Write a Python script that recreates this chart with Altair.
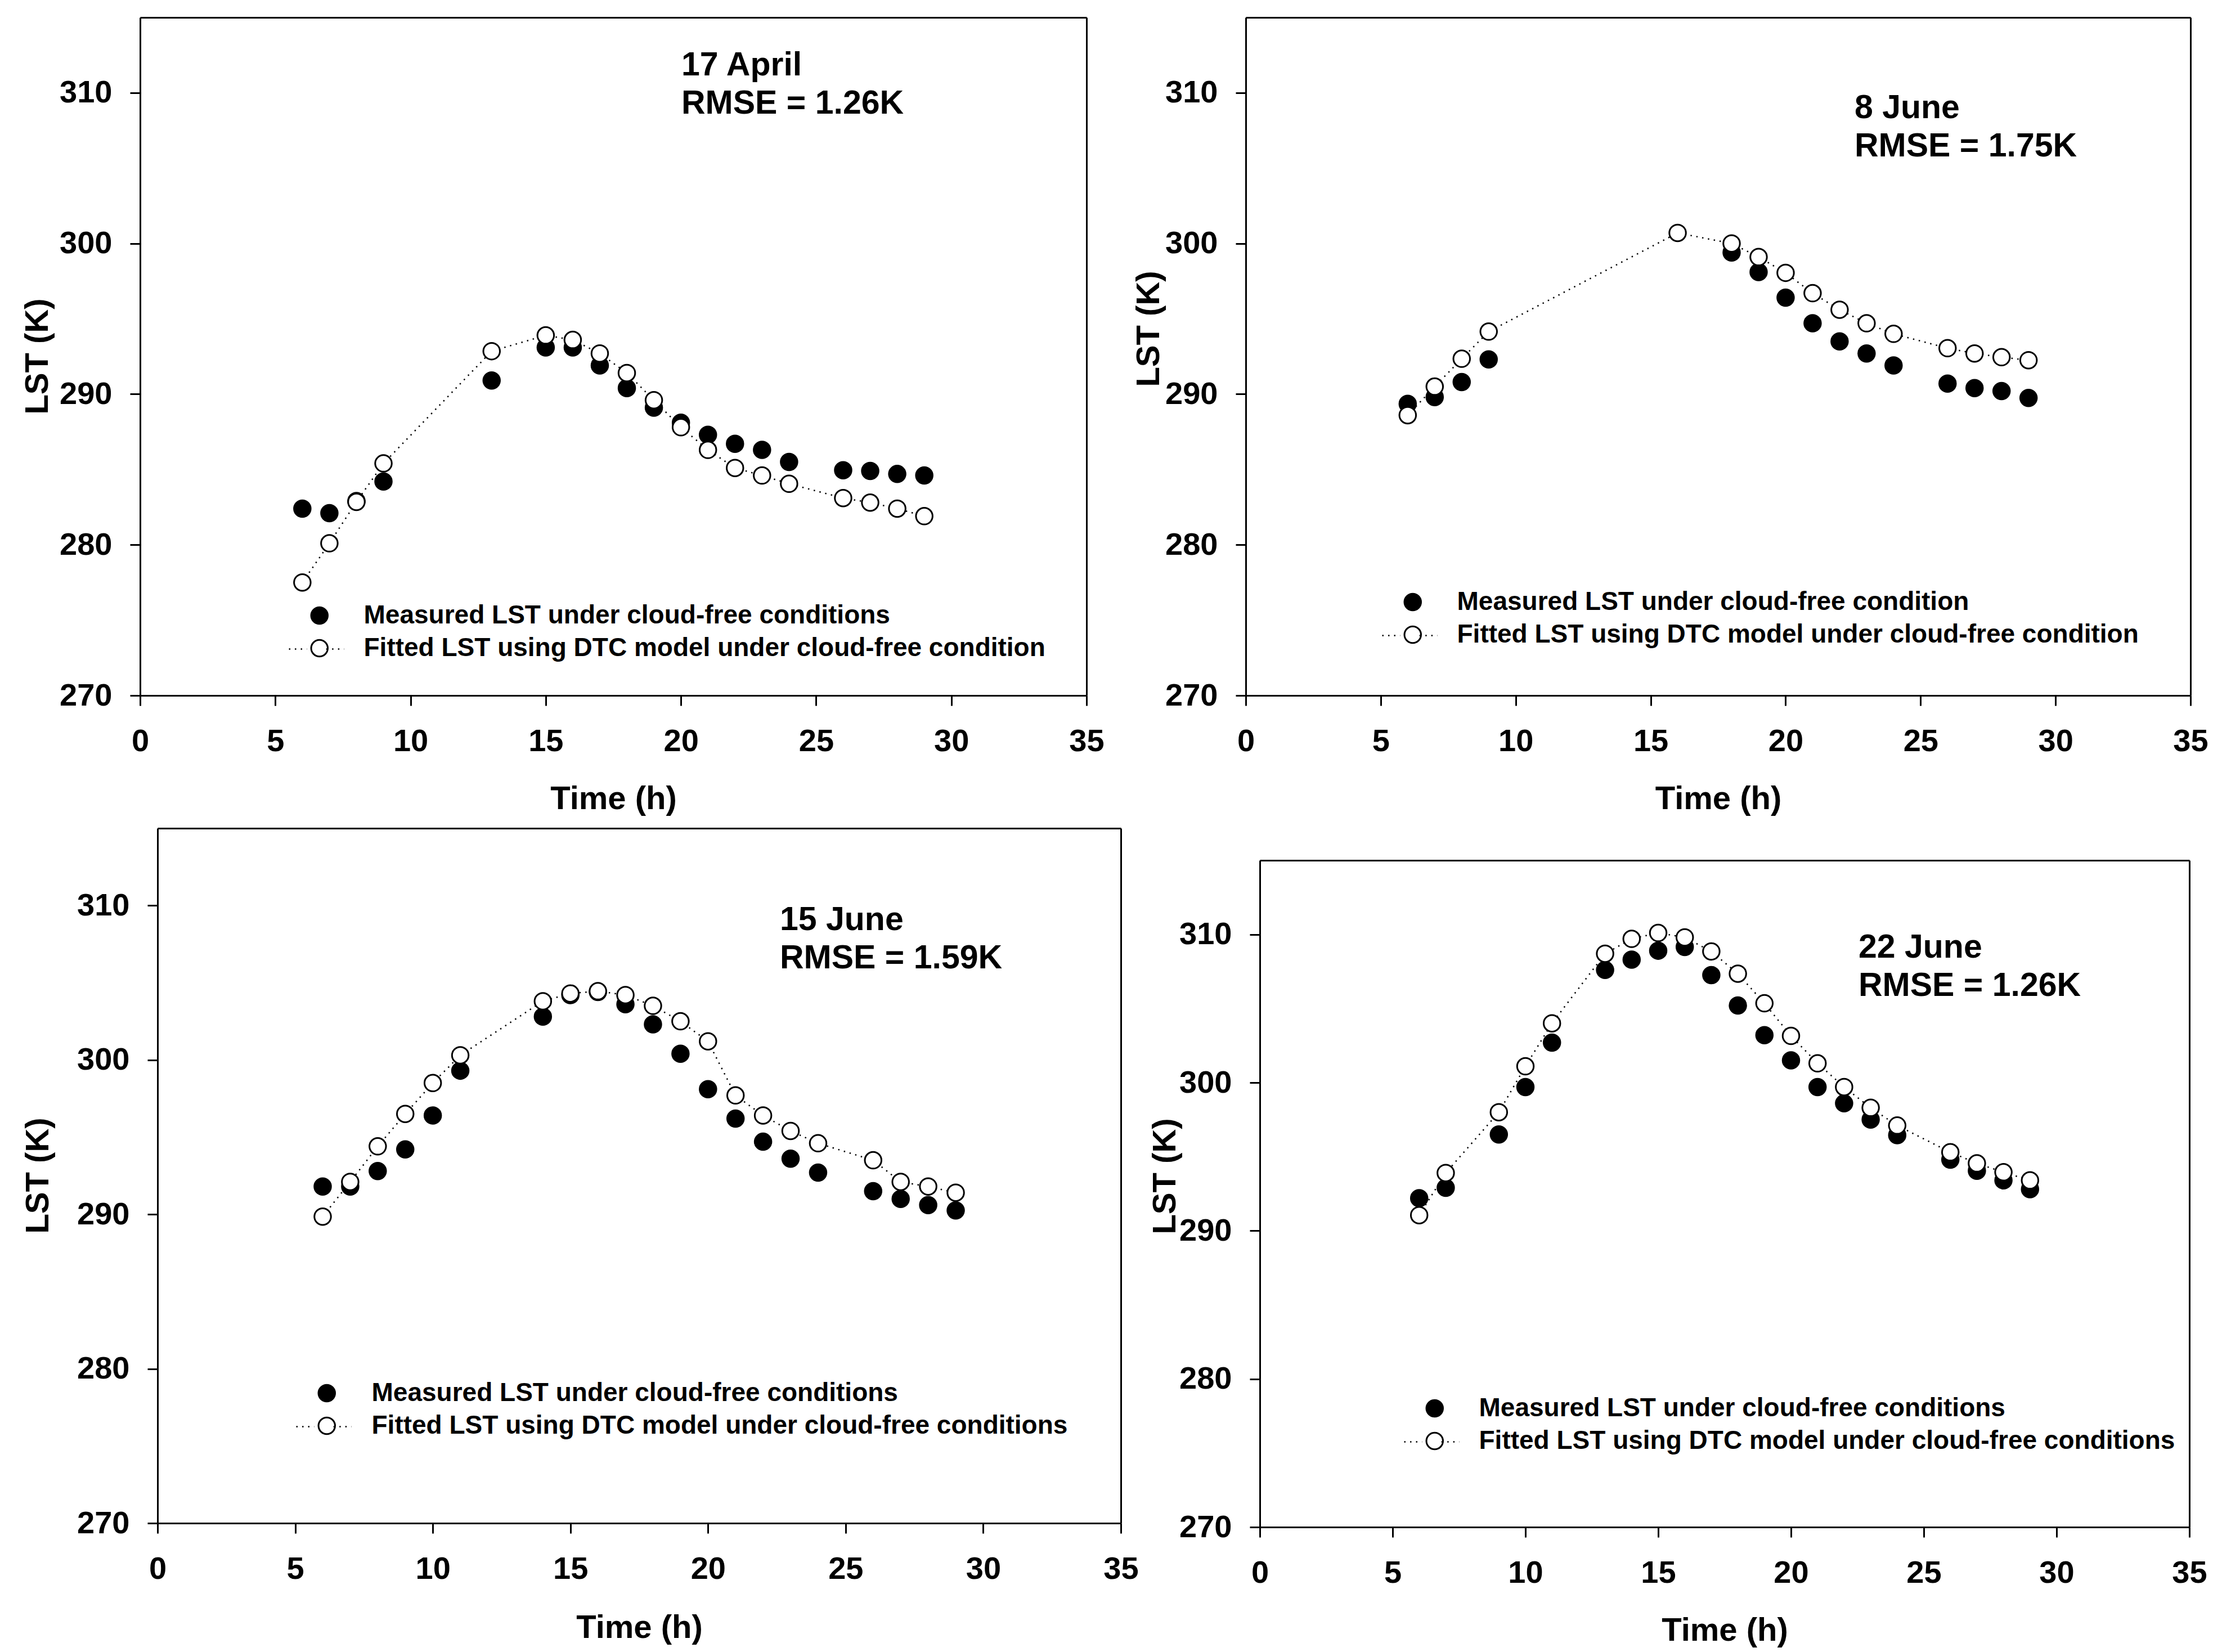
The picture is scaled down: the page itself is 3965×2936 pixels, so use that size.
import altair as alt
import pandas as pd

FONT = "Liberation Sans"

# ---------------- data ----------------
p1_meas_t = [6, 7, 8, 9, 13, 15, 16, 17, 18, 19, 20, 21, 22, 23, 24, 26, 27, 28, 29]
p1_meas_v = [282.4, 282.1, 282.9, 284.2, 290.9, 293.1, 293.1, 291.9, 290.4, 289.1, 288.1,
             287.3, 286.7, 286.3, 285.5, 284.95, 284.9, 284.7, 284.6]
p1_fit_t = [6, 7, 8, 9, 13, 15, 16, 17, 18, 19, 20, 21, 22, 23, 24, 26, 27, 28, 29]
p1_fit_v = [277.5, 280.1, 282.85, 285.4, 292.85, 293.9, 293.6, 292.7, 291.4, 289.6, 287.8,
            286.3, 285.1, 284.6, 284.05, 283.1, 282.8, 282.4, 281.9]

p2_meas_t = [6, 7, 8, 9, 18, 19, 20, 21, 22, 23, 24, 26, 27, 28, 29]
p2_meas_v = [289.35, 289.8, 290.8, 292.3, 299.4, 298.1, 296.4, 294.7, 293.5, 292.7, 291.9,
             290.7, 290.4, 290.2, 289.75]
p2_fit_t = [6, 7, 8, 9, 16, 18, 19, 20, 21, 22, 23, 24, 26, 27, 28, 29]
p2_fit_v = [288.6, 290.5, 292.35, 294.15, 300.7, 300.0, 299.1, 298.05, 296.7, 295.6, 294.7,
            294.0, 293.05, 292.7, 292.45, 292.25]

p3_meas_t = [6, 7, 8, 9, 10, 11, 14, 15, 16, 17, 18, 19, 20, 21, 22, 23, 24, 26, 27, 28, 29]
p3_meas_v = [291.8, 291.8, 292.8, 294.2, 296.4, 299.3, 302.8, 304.2, 304.4, 303.6, 302.3,
             300.4, 298.1, 296.2, 294.7, 293.6, 292.7, 291.5, 291.0, 290.6, 290.25]
p3_fit_t = [6, 7, 8, 9, 10, 11, 14, 15, 16, 17, 18, 19, 20, 21, 22, 23, 24, 26, 27, 28, 29]
p3_fit_v = [289.85, 292.1, 294.4, 296.5, 298.5, 300.3, 303.8, 304.3, 304.45, 304.2, 303.5,
            302.5, 301.2, 297.7, 296.4, 295.4, 294.6, 293.5, 292.1, 291.8, 291.4]

p4_meas_t = [6, 7, 9, 10, 11, 13, 14, 15, 16, 17, 18, 19, 20, 21, 22, 23, 24, 26, 27, 28, 29]
p4_meas_v = [292.2, 292.9, 296.5, 299.7, 302.7, 307.6, 308.3, 308.9, 309.15, 307.25, 305.2,
             303.2, 301.5, 299.7, 298.6, 297.5, 296.45, 294.8, 294.05, 293.4, 292.8]
p4_fit_t = [6, 7, 9, 10, 11, 13, 14, 15, 16, 17, 18, 19, 20, 21, 22, 23, 24, 26, 27, 28, 29]
p4_fit_v = [291.05, 293.9, 298.0, 301.1, 304.0, 308.7, 309.7, 310.1, 309.8, 308.85, 307.35,
            305.35, 303.15, 301.3, 299.7, 298.3, 297.1, 295.3, 294.55, 293.95, 293.4]

dates = ["17 April", "8 June", "15 June", "22 June"]
rmse = ["RMSE = 1.26K", "RMSE = 1.75K", "RMSE = 1.59K", "RMSE = 1.26K"]
meas_labels = ["Measured LST under cloud-free conditions",
               "Measured LST under cloud-free condition",
               "Measured LST under cloud-free conditions",
               "Measured LST under cloud-free conditions"]
fit_labels = ["Fitted LST using DTC model under cloud-free condition",
              "Fitted LST using DTC model under cloud-free condition",
              "Fitted LST using DTC model under cloud-free conditions",
              "Fitted LST using DTC model under cloud-free conditions"]

x_ticks = [0, 5, 10, 15, 20, 25, 30, 35]
y_ticks = [270, 280, 290, 300, 310]
x_domain = [0, 35]
y_domain = [270, 315]

# ---------------- layout / style ----------------
# d = inner left shift of the plot frame inside its cell
panels = [
    dict(mt=p1_meas_t, mv=p1_meas_v, ft=p1_fit_t, fv=p1_fit_v, w=1682, h=1205, d=0,
         ytx=-165, yty=602, xty=201, lx=312, ly=1063, lgap=72, ax=962, ay=103),
    dict(mt=p2_meas_t, mv=p2_meas_v, ft=p2_fit_t, fv=p2_fit_v, w=1679, h=1205, d=0,
         ytx=-155, yty=553, xty=201, lx=290, ly=1039, lgap=72, ax=1082, ay=179),
    dict(mt=p3_meas_t, mv=p3_meas_v, ft=p3_fit_t, fv=p3_fit_v, w=1712, h=1235, d=31,
         ytx=-195, yty=617, xty=203, lx=294, ly=1004, lgap=73, ax=1106, ay=181),
    dict(mt=p4_meas_t, mv=p4_meas_v, ft=p4_fit_t, fv=p4_fit_v, w=1652, h=1185, d=226,
         ytx=-151, yty=561, xty=201, lx=304, ly=974, lgap=72, ax=1064, ay=173),
]

SYM = 870
ROWPITCH = 58
LFONT = 46


def make_panel(i, p):
    d = p["d"]
    m_lab, f_lab = meas_labels[i], fit_labels[i]
    dm = pd.DataFrame({"t": p["mt"], "v": p["mv"], "s": m_lab})
    df = pd.DataFrame({"t": p["ft"], "v": p["fv"], "s": f_lab, "ln": f_lab})

    xs = alt.Scale(domain=x_domain, nice=False, zero=False, range=[d, d + p["w"]])
    ys = alt.Scale(domain=y_domain, nice=False, zero=False)

    x_main = alt.X("t:Q", scale=xs,
                   axis=alt.Axis(values=x_ticks, title="Time (h)", titleY=p["xty"],
                                 titleBaseline="alphabetic", labelPadding=36,
                                 labelFlush=False, labelOverlap=False))
    y_main = alt.Y("v:Q", scale=ys,
                   axis=alt.Axis(values=y_ticks, title="LST (K)", titleX=p["ytx"],
                                 titleY=p["yty"], titleBaseline="alphabetic",
                                 labelPadding=32, labelFlush=False, labelOverlap=False,
                                 offset=-d))
    x_top = alt.X("t:Q", scale=xs,
                  axis=alt.Axis(orient="top", labels=False, ticks=False, title=None))
    y_right = alt.Y("v:Q", scale=ys,
                    axis=alt.Axis(orient="right", labels=False, ticks=False, title=None))
    x_plain = alt.X("t:Q", scale=xs, axis=None)
    y_plain = alt.Y("v:Q", scale=ys, axis=None)

    fill_scale = alt.Scale(domain=[m_lab, f_lab], range=["black", "white"])
    r = (SYM ** 0.5) / 2 + 1.5
    fill_legend = alt.Legend(
        title=None, orient="none", legendX=d + p["lx"] - r, legendY=p["ly"] - LFONT / 2,
        symbolType="circle", symbolSize=SYM, symbolStrokeColor="black",
        symbolStrokeWidth=3, labelFont=FONT, labelFontSize=LFONT,
        labelFontWeight="bold", labelColor="black", labelLimit=3000,
        labelOffset=p["lgap"] - r, rowPadding=ROWPITCH - LFONT, padding=0)

    meas = alt.Chart(dm).mark_point(shape="circle", filled=True, size=SYM, stroke="black",
                                    strokeWidth=3, opacity=1).encode(
        x=x_main, y=y_main, fill=alt.Fill("s:N", scale=fill_scale, legend=fill_legend))

    dash_len = 98
    dash_legend = alt.Legend(
        title=None, orient="none", legendX=d + p["lx"] - dash_len / 2,
        legendY=p["ly"] + ROWPITCH - dash_len / 2,
        symbolType="M-1,0L-0.35,0M0.35,0L1,0", symbolSize=dash_len ** 2,
        symbolStrokeColor="black", symbolStrokeWidth=2.5, labelFontSize=1,
        labelExpr="''", padding=0)
    line = alt.Chart(df).mark_line(color="black", strokeWidth=2.5).encode(
        x=x_top, y=y_right,
        strokeDash=alt.StrokeDash("ln:N", scale=alt.Scale(domain=[f_lab], range=[[2.5, 8]]),
                                  legend=dash_legend))

    fit = alt.Chart(df).mark_point(shape="circle", filled=True, size=SYM, stroke="black",
                                   strokeWidth=3, opacity=1).encode(
        x=x_plain, y=y_plain,
        fill=alt.Fill("s:N", scale=fill_scale, legend=fill_legend))

    ann = alt.Chart(pd.DataFrame({"k": [0]})).mark_text(
        align="left", baseline="alphabetic", font=FONT, fontSize=59,
        fontWeight="bold", color="black", lineHeight=68).encode(
        x=alt.value(d + p["ax"]), y=alt.value(p["ay"]),
        text=alt.value([dates[i], rmse[i]]))

    ch = alt.layer(meas, line, fit, ann).resolve_axis(
        x="independent", y="independent").properties(width=d + p["w"], height=p["h"])
    return ch


c1 = make_panel(0, panels[0])
c2 = make_panel(1, panels[1])
c3 = make_panel(2, panels[2])
c4 = make_panel(3, panels[3]).properties(
    title=alt.TitleParams(" ", fontSize=20, offset=37))

IND = dict(fill="independent", strokeDash="independent")

chart = alt.concat(c1, c2, c3, c4, columns=2, align="none",
                   spacing={"column": -12, "row": 21}).resolve_scale(
    **IND).resolve_legend(**IND).properties(
    padding={"left": 29, "top": 22, "right": 5, "bottom": 5}
).configure(background="white").configure_view(
    stroke="transparent"
).configure_axis(
    domainColor="black", domainWidth=3, tickColor="black", tickWidth=3, tickSize=18,
    labelFont=FONT, labelFontSize=56, labelFontWeight="bold", labelColor="black",
    titleFont=FONT, titleFontSize=58, titleFontWeight="bold", titleColor="black",
    grid=False
)

chart.save("out.html", embed_options={"renderer": "svg", "actions": False})
